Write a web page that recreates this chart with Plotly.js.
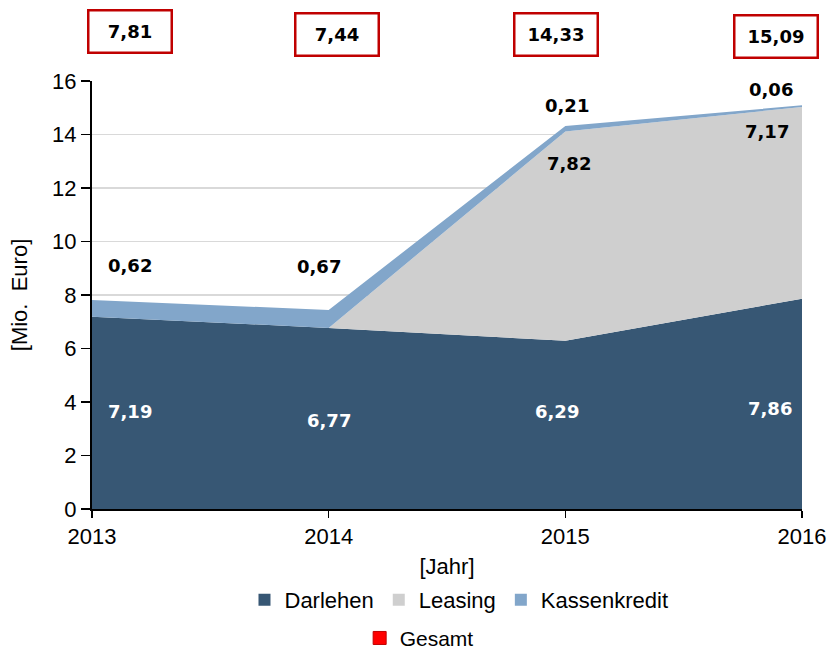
<!DOCTYPE html>
<html><head><meta charset="utf-8">
<script src="https://cdn.plot.ly/plotly-3.0.1.min.js"></script>
<style>html,body{margin:0;padding:0;background:#fff}#chart{width:830px;height:654px}</style>
</head><body><div id="chart"></div>
<script>
// ---- data ----
const years = [2013, 2014, 2015, 2016];
const darlehen = [7.19, 6.77, 6.29, 7.86];
const leasing = [0, 0, 7.82, 7.17];
const kassenkredit = [0.62, 0.67, 0.21, 0.06];
const gesamt = [7.81, 7.44, 14.33, 15.09];
const seriesNames = ['Darlehen', 'Leasing', 'Kassenkredit', 'Gesamt'];
const yTickVals = [0, 2, 4, 6, 8, 10, 12, 14, 16];

// ---- styles / label placement ----
const colors = {Darlehen: '#375774', Leasing: '#CFCFCF', Kassenkredit: '#82A6CA', Gesamt: '#FF0000'};
const darlehenLabelPos = [[2013.16, 3.66], [2014.0, 3.29], [2014.965, 3.66], [2015.865, 3.74]];
const leasingLabelPos = [null, null, [2015.015, 12.9], [2015.85, 14.13]];
const kassenLabelPos = [[2013.16, 9.12], [2013.96, 9.05], [2015.007, 15.07], [2015.87, 15.70]];
const gesamtBoxPos = [[0.0535, 1.1168], [0.345, 1.1075], [0.6535, 1.1075], [0.963, 1.105]];

const fmt = v => v.toFixed(2).replace('.', ',');
const baseFont = 'Liberation Sans, Arial, sans-serif';
const boldFont = 'DejaVu Sans, Verdana, sans-serif';

function area(name, vals) {
  return {x: years, y: vals, name: name, type: 'scatter', mode: 'none',
    stackgroup: 'one', fillcolor: colors[name], line: {width: 0},
    showlegend: false, hoverinfo: 'y'};
}
function legendItem(name, legend) {
  return {x: [null], y: [null], name: name, type: 'scatter', mode: 'markers',
    marker: {symbol: 'square', size: name === 'Gesamt' ? 13 : 12, color: colors[name],
      line: {width: name === 'Gesamt' ? 1 : 0, color: '#C00000'}},
    legend: legend, showlegend: true};
}

const traces = [
  area('Darlehen', darlehen),
  area('Leasing', leasing),
  area('Kassenkredit', kassenkredit),
  legendItem('Darlehen', 'legend'),
  legendItem('Leasing', 'legend'),
  legendItem('Kassenkredit', 'legend'),
  legendItem('Gesamt', 'legend2')
];

const annotations = [];
const lblFont = {family: boldFont, size: 18, color: '#000', weight: 'bold'};
function addLabel(p, v, extra) {
  annotations.push(Object.assign({x: p[0], y: p[1], xref: 'x', yref: 'y',
    xanchor: 'center', yanchor: 'middle', text: '<b>' + fmt(v) + '</b>',
    showarrow: false, font: lblFont}, extra || {}));
}
darlehen.forEach((v, i) => addLabel(darlehenLabelPos[i], v,
  {font: Object.assign({}, lblFont, {color: '#FFFFFF'})}));
leasing.forEach((v, i) => { if (leasingLabelPos[i]) addLabel(leasingLabelPos[i], v); });
kassenkredit.forEach((v, i) => addLabel(kassenLabelPos[i], v,
  i === 3 ? {bgcolor: '#FFFFFF'} : {}));
gesamt.forEach((v, i) => {
  const p = gesamtBoxPos[i];
  annotations.push({x: p[0], y: p[1], xref: 'paper', yref: 'paper',
    xanchor: 'center', yanchor: 'middle', text: '<b>' + fmt(v) + '</b>',
    showarrow: false, font: lblFont, width: 79, height: 38, borderpad: 1,
    bordercolor: '#C00000', borderwidth: 2.5, bgcolor: '#FFFFFF'});
});

const layout = {
  width: 830, height: 654,
  margin: {l: 92, r: 28, t: 81, b: 145},
  paper_bgcolor: '#FFFFFF', plot_bgcolor: '#FFFFFF',
  font: {family: baseFont, size: 22, color: '#000'},
  xaxis: {range: [2013, 2016], tickvals: years, ticktext: years.map(String),
    showgrid: false, zeroline: false, showline: true, linecolor: '#000', linewidth: 2,
    ticks: 'outside', ticklen: 7, tickwidth: 1.5, tickcolor: '#000',
    tickfont: {family: baseFont, size: 22}, automargin: false,
    title: {text: '[Jahr]', font: {family: baseFont, size: 22}, standoff: 12}},
  yaxis: {range: [0, 16], tickvals: yTickVals, showgrid: true, gridcolor: '#D9D9D9', gridwidth: 1.5,
    zeroline: false, showline: true, linecolor: '#000', linewidth: 2,
    ticks: 'outside', ticklen: 9, tickwidth: 1.5, tickcolor: '#000',
    tickfont: {family: baseFont, size: 22}, automargin: false,
    title: {text: '[Mio.  Euro]', font: {family: baseFont, size: 22}, standoff: 18}},
  legend: {orientation: 'h', xref: 'container', yref: 'container',
    x: 0.553, xanchor: 'center', y: 0.0826, yanchor: 'middle', traceorder: 'normal',
    font: {family: baseFont, size: 22}, itemwidth: 30, tracegroupgap: 0},
  legend2: {orientation: 'h', xref: 'container', yref: 'container',
    x: 0.505, xanchor: 'center', y: 0.024, yanchor: 'middle',
    font: {family: baseFont, size: 21}},
  annotations: annotations,
  showlegend: true
};

Plotly.newPlot('chart', traces, layout, {displayModeBar: false, staticPlot: true});
</script>
</body></html>
